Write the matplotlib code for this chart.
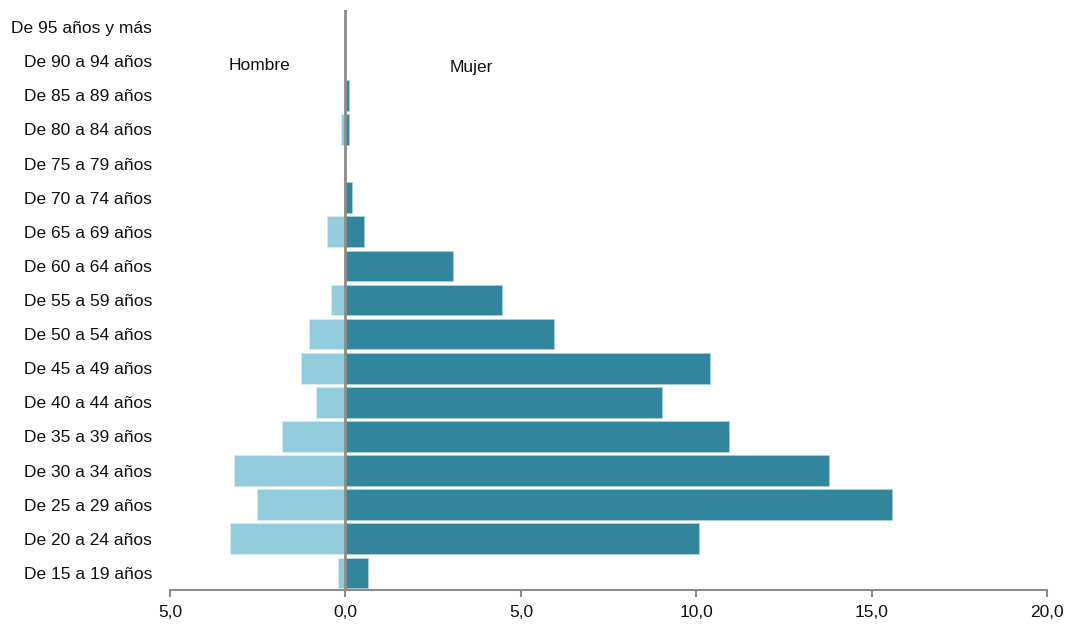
import matplotlib
matplotlib.use("Agg")
import matplotlib.pyplot as plt
from matplotlib.ticker import FuncFormatter

categories = ["De 15 a 19 años", "De 20 a 24 años", "De 25 a 29 años", "De 30 a 34 años",
              "De 35 a 39 años", "De 40 a 44 años", "De 45 a 49 años", "De 50 a 54 años",
              "De 55 a 59 años", "De 60 a 64 años", "De 65 a 69 años", "De 70 a 74 años",
              "De 75 a 79 años", "De 80 a 84 años", "De 85 a 89 años", "De 90 a 94 años",
              "De 95 años y más"]
hombre = [0.20, 3.28, 2.53, 3.18, 1.81, 0.84, 1.28, 1.05, 0.42, 0.0, 0.53, 0.0,
          0.0, 0.12, 0.0, 0.0, 0.0]
mujer = [0.63, 10.07, 15.57, 13.78, 10.92, 9.01, 10.39, 5.93, 4.45, 3.07, 0.52, 0.20,
         0.0, 0.11, 0.11, 0.0, 0.0]
xticks = [-5, 0, 5, 10, 15, 20]

plt.rcParams['font.family'] = ['Liberation Sans', 'DejaVu Sans']

fig = plt.figure(figsize=(10.67, 6.28), dpi=100)
ax = fig.add_axes([170/1067, 1-590/628, (1047.3-170)/1067, (590-10)/628])

y = list(range(len(categories)))
ax.barh(y, [-h for h in hombre], height=0.9, color="#93CDDD", edgecolor="#D6ECF2", linewidth=0.6, zorder=2)
ax.barh(y, mujer, height=0.9, color="#31859C", edgecolor="#A9D0DB", linewidth=0.6, zorder=2)
ax.axvline(0, color="#8C8C8C", linewidth=2, zorder=3)

ax.set_xlim(-5, 20)
ax.set_ylim(-0.5, len(categories) - 0.5)
ax.set_xticks(xticks)
ax.xaxis.set_major_formatter(FuncFormatter(lambda v, p: f"{abs(v):.1f}".replace(".", ",")))
ax.set_yticks(y)
ax.set_yticklabels(categories)

for s in ["top", "right", "left"]:
    ax.spines[s].set_visible(False)
ax.spines["bottom"].set_color("#8C8C8C")
ax.spines["bottom"].set_linewidth(1.5)
ax.tick_params(axis="x", direction="out", length=5, width=1.5, color="#8C8C8C",
               labelsize=12.5, pad=6, labelcolor="#111111")
ax.tick_params(axis="y", length=0, labelsize=12.5, pad=13, labelcolor="#111111")

ax.text(-2.44, 14.88, "Hombre", ha="center", va="center", fontsize=12.5, color="#111111")
ax.text(3.6, 14.82, "Mujer", ha="center", va="center", fontsize=12.5, color="#111111")

fig.savefig("out.png", dpi=100)
